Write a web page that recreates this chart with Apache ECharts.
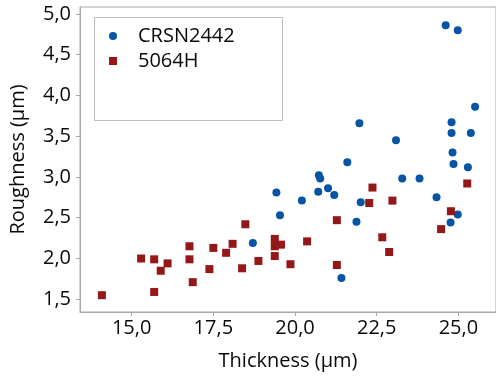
<!DOCTYPE html>
<html><head><meta charset="utf-8">
<script src="https://cdn.jsdelivr.net/npm/echarts@6/dist/echarts.min.js"></script>
<style>html,body{margin:0;padding:0;background:#fff}#c{width:496px;height:376px}</style>
</head><body><div id="c"></div>
<script>
const seriesNames = ['CRSN2442', '5064H'];
const crsnThickness = [24.61,24.98,25.51,21.97,24.79,24.79,25.38,23.09,24.82,24.85,25.29,21.60,20.73,20.77,23.28,23.81,20.71,21.01,21.20,20.21,22.01,24.33,19.54,21.88,24.98,24.76,21.42,19.43,18.71];
const crsnRoughness = [4.86,4.80,3.86,3.66,3.67,3.54,3.54,3.45,3.30,3.16,3.12,3.18,3.02,2.98,2.98,2.98,2.82,2.86,2.78,2.71,2.69,2.75,2.53,2.45,2.54,2.44,1.76,2.81,2.19];
const h5064Thickness = [14.09,15.29,15.69,16.10,15.89,15.69,16.77,16.77,16.87,17.50,17.38,17.89,18.09,18.48,18.38,18.88,19.38,19.38,19.57,19.38,19.86,20.37,21.28,21.28,22.37,22.27,22.98,22.67,22.88,25.27,24.77,24.47];
const h5064Roughness = [1.55,2.00,1.99,1.94,1.85,1.59,2.15,1.99,1.71,2.13,1.87,2.07,2.18,2.42,1.88,1.97,2.24,2.15,2.17,2.03,1.93,2.21,2.47,1.92,2.87,2.68,2.71,2.26,2.08,2.92,2.58,2.36];
const xTicks = [15.0, 17.5, 20.0, 22.5, 25.0];
const yTicks = [1.5, 2.0, 2.5, 3.0, 3.5, 4.0, 4.5, 5.0];

const pair = (xs, ys) => xs.map((x, i) => [x, ys[i]]);
const fmt = v => Number(v).toFixed(1).replace('.', ',');
const FONT = 'Open Sans';
const axisGrey = '#a8a8a8';
const txt = '#0a0a0a';

const chart = echarts.init(document.getElementById('c'), null, {renderer: 'canvas'});
chart.setOption({
  animation: false,
  backgroundColor: '#fff',
  textStyle: {fontFamily: FONT},
  grid: {left: 78, right: -2, top: 7, bottom: 58, show: true, borderColor: axisGrey, borderWidth: 1},
  xAxis: {
    type: 'value', min: 13.42, max: 26.15,
    name: 'Thickness (µm)', nameLocation: 'middle', nameGap: 39,
    nameTextStyle: {fontFamily: FONT, fontSize: 20, color: txt},
    axisLine: {show: true, lineStyle: {color: axisGrey}},
    axisTick: {show: true, length: 4, inside: false, customValues: xTicks, lineStyle: {color: axisGrey}},
    axisLabel: {customValues: xTicks, formatter: fmt, fontFamily: FONT, fontSize: 20, color: txt, margin: 6},
    splitLine: {show: false}
  },
  yAxis: {
    type: 'value', min: 1.344, max: 5.084,
    name: 'Roughness (µm)', nameLocation: 'middle', nameGap: 52, nameRotate: 90,
    nameTextStyle: {fontFamily: FONT, fontSize: 20, color: txt},
    axisLine: {show: true, lineStyle: {color: axisGrey}},
    axisTick: {show: true, length: 4, inside: false, customValues: yTicks, lineStyle: {color: axisGrey}},
    axisLabel: {customValues: yTicks, formatter: fmt, fontFamily: FONT, fontSize: 20, color: txt, margin: 9},
    splitLine: {show: false}
  },
  legend: {
    left: 104, top: 21, orient: 'vertical',
    itemWidth: 8, itemHeight: 8, itemGap: 5,
    textStyle: {fontFamily: FONT, fontSize: 20, color: txt, lineHeight: 20, padding: [0, 0, 0, 16]},
    data: [{name: seriesNames[0], icon: 'circle'}, {name: seriesNames[1], icon: 'rect'}]
  },
  graphic: [{
    type: 'rect', shape: {x: 94.5, y: 17.5, width: 188, height: 103},
    style: {fill: 'none', stroke: '#bdbdbd', lineWidth: 1}, z: 10
  }],
  series: [
    {name: seriesNames[0], type: 'scatter', symbol: 'circle', symbolSize: 8,
     itemStyle: {color: '#0654a6', opacity: 1}, data: pair(crsnThickness, crsnRoughness)},
    {name: seriesNames[1], type: 'scatter', symbol: 'rect', symbolSize: 8,
     itemStyle: {color: '#951818', opacity: 1}, data: pair(h5064Thickness, h5064Roughness)}
  ]
});
</script></body></html>
